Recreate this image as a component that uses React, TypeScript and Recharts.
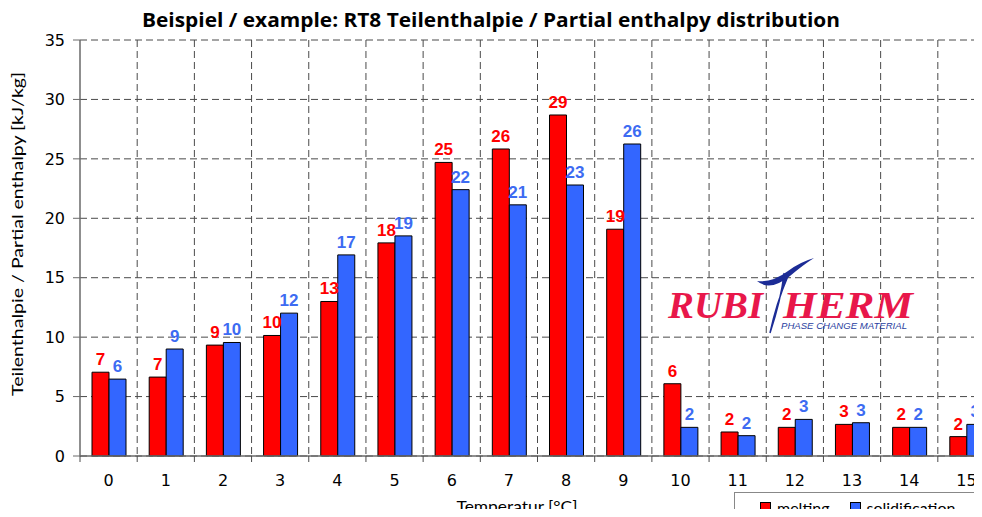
import { BarChart, Bar, XAxis, YAxis, CartesianGrid, LabelList } from "recharts";

const categories = ["0", "1", "2", "3", "4", "5", "6", "7", "8", "9", "10", "11", "12", "13", "14", "15"];
const melting = [7.05, 6.64, 9.33, 10.14, 13.0, 17.93, 24.7, 25.83, 28.69, 19.08, 6.08, 2.02, 2.41, 2.66, 2.41, 1.63];
const solidification = [6.47, 9.0, 9.55, 12.02, 16.92, 18.52, 22.41, 21.13, 22.8, 26.25, 2.41, 1.71, 3.08, 2.8, 2.41, 2.66];
const yTicks = [0, 5, 10, 15, 20, 25, 30, 35];
const seriesNames = ["melting", "solidification"];

const data = categories.map((c, i) => ({ t: c, melting: melting[i], solidification: solidification[i] }));

const RED = "#FF0000";
const BLUE = "#3366FF";
const BLUE_TXT = "#3D6BF2";
const GRID = "#4a4a4a";
const AXIS = "#6a6a6a";

const PLOT_LEFT = 80;
const PLOT_W = 915;
const BAND = PLOT_W / categories.length;

function makeLabel(color: string) {
  return (props: any) => {
    const { x, y, width, value } = props;
    return (
      <text
        x={x + width / 2}
        y={y - 7}
        textAnchor="middle"
        fill={color}
        fontFamily="Liberation Sans, Arial, sans-serif"
        fontWeight="bold"
        fontSize={17}
      >
        {Math.round(value)}
      </text>
    );
  };
}

function XTick(props: any) {
  const { x, y, payload } = props;
  const left = x - BAND / 2;
  return (
    <g>
      <line x1={left} x2={left} y1={y - 6} y2={y} stroke={GRID} strokeWidth={1} />
      <text
        x={x}
        y={y + 24}
        textAnchor="middle"
        fill="#000"
        fontFamily="DejaVu Sans, sans-serif"
        fontSize={16}
      >
        {payload.value}
      </text>
    </g>
  );
}

function LegendBox() {
  const sq = (c: string) => (
    <span
      style={{
        display: "inline-block",
        width: 9,
        height: 10,
        background: c,
        border: "1px solid #000",
        marginRight: 6,
        verticalAlign: "middle",
      }}
    />
  );
  return (
    <div
      style={{
        position: "absolute",
        left: 734,
        top: 492,
        borderTop: "1px solid #888",
        borderLeft: "1px solid #888",
        height: 25,
        width: 248,
        boxSizing: "border-box",
        padding: "3px 0 0 25px",
        fontFamily: "Lato, sans-serif",
        fontSize: 16,
        lineHeight: "20px",
        color: "#000",
        background: "#fff",
        whiteSpace: "nowrap",
      }}
    >
      {sq(RED)}
      <span style={{ verticalAlign: "middle", marginRight: 20 }}>{seriesNames[0]}</span>
      {sq(BLUE)}
      <span style={{ verticalAlign: "middle" }}>{seriesNames[1]}</span>
    </div>
  );
}

function Logo() {
  return (
    <svg width={982} height={517} style={{ position: "absolute", left: 0, top: 0, pointerEvents: "none" }}>
      <text
        x={668}
        y={318}
        fill="#E8174A"
        fontFamily="Liberation Serif, serif"
        fontStyle="italic"
        fontWeight="bold"
        fontSize={38}
        textLength={95}
        lengthAdjust="spacingAndGlyphs"
      >
        RUBI
      </text>
      <text
        x={783}
        y={318}
        fill="#E8174A"
        fontFamily="Liberation Serif, serif"
        fontStyle="italic"
        fontWeight="bold"
        fontSize={38}
        textLength={130}
        lengthAdjust="spacingAndGlyphs"
      >
        HERM
      </text>
      <path d="M757 281 Q770 292 790 276 Q803 265 814 258 Q800 262 788 271 Q772 283 757 281 Z" fill="#1C2C96" />
      <path d="M784 274 Q781 300 770 333 Q776 304 788 276 Z" fill="#1C2C96" stroke="#1C2C96" strokeWidth={1.5} />
      <text
        x={781}
        y={329}
        fill="#2A3EA0"
        fontFamily="Liberation Sans, Arial, sans-serif"
        fontStyle="italic"
        fontSize={8.5}
        textLength={126}
        lengthAdjust="spacingAndGlyphs"
      >
        PHASE CHANGE MATERIAL
      </text>
    </svg>
  );
}

export default function App() {
  return (
    <div
      style={{
        position: "relative",
        width: 982,
        height: 517,
        margin: -8,
        overflow: "hidden",
        background: "#fff",
      }}
    >
      <BarChart
        width={1005}
        height={517}
        data={data}
        margin={{ top: 40, right: 10, left: 0, bottom: 31 }}
        barCategoryGap={12}
        barGap={0}
      >
        <CartesianGrid
          stroke={GRID}
          strokeDasharray="7 4"
          verticalCoordinatesGenerator={({ offset }: any) =>
            categories.map((_, i) => offset.left + ((i + 1) * offset.width) / categories.length)
          }
        />
        <XAxis
          dataKey="t"
          height={30}
          tickLine={false}
          tickSize={6}
          tickMargin={0}
          axisLine={{ stroke: AXIS, strokeWidth: 1.5 }}
          tick={<XTick />}
          interval={0}
        />
        <YAxis
          width={PLOT_LEFT}
          domain={[0, 35]}
          ticks={yTicks}
          interval={0}
          tickSize={7}
          tickMargin={8}
          axisLine={{ stroke: AXIS, strokeWidth: 1.5 }}
          tickLine={{ stroke: AXIS }}
          tick={{ fill: "#000", fontSize: 16, fontFamily: "DejaVu Sans, sans-serif" }}
        />
        <Bar dataKey="melting" name={seriesNames[0]} fill={RED} stroke="#000" strokeWidth={1} isAnimationActive={false}>
          <LabelList dataKey="melting" content={makeLabel(RED)} />
        </Bar>
        <Bar
          dataKey="solidification"
          name={seriesNames[1]}
          fill={BLUE}
          stroke="#000"
          strokeWidth={1}
          isAnimationActive={false}
        >
          <LabelList dataKey="solidification" content={makeLabel(BLUE_TXT)} />
        </Bar>
      </BarChart>
      <svg width={982} height={517} style={{ position: "absolute", left: 0, top: 0, pointerEvents: "none" }}>
        <text
          x={491}
          y={27}
          textAnchor="middle"
          fontFamily="Open Sans, sans-serif"
          fontWeight="bold"
          fontSize={19}
          textLength={698}
          lengthAdjust="spacingAndGlyphs"
          fill="#000"
        >
          Beispiel / example: RT8 Teilenthalpie / Partial enthalpy distribution
        </text>
        <text
          x={0}
          y={0}
          transform="translate(23 234) rotate(-90)"
          textAnchor="middle"
          fontFamily="Lato, sans-serif"
          fontSize={16}
          textLength={324}
          lengthAdjust="spacingAndGlyphs"
          fill="#000"
        >
          Teilenthalpie / Partial enthalpy [kJ/kg]
        </text>
        <text
          x={517}
          y={512}
          textAnchor="middle"
          fontFamily="Lato, sans-serif"
          fontSize={16}
          textLength={121}
          lengthAdjust="spacingAndGlyphs"
          fill="#000"
        >
          Temperatur [°C]
        </text>
      </svg>
      <Logo />
      <LegendBox />
    </div>
  );
}
